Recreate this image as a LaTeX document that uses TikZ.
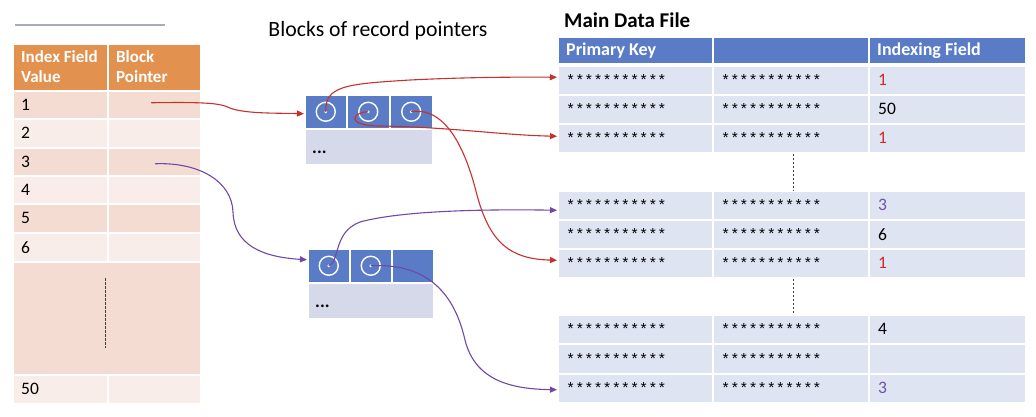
\documentclass[tikz,border=0pt]{standalone}
\usepackage{fontspec}
\setmainfont{Carlito}
\newfontfamily\monof{Liberation Mono}
\usetikzlibrary{arrows.meta}
\definecolor{hdrorange}{HTML}{E3914F}
\definecolor{rowdark}{HTML}{F4DCD3}
\definecolor{rowlight}{HTML}{F9EDEA}
\definecolor{hdrblue}{HTML}{5A7BC6}
\definecolor{rowblue}{HTML}{DEE4F2}
\definecolor{blkgray}{HTML}{D5D9EA}
\definecolor{arrred}{HTML}{C8302C}
\definecolor{numred}{HTML}{D02828}
\definecolor{arrpurple}{HTML}{7048A8}
\definecolor{numpurple}{HTML}{7050A8}
\definecolor{rulegray}{HTML}{A8ADB3}
\newcommand\cbx[6]{\node[cellbase, fill=#6, minimum width=#4pt, minimum height=#5pt] (#1) at (#2,#3) {};}
\newcommand\stars{***********}
\begin{document}
\begin{tikzpicture}[x=1pt,y=-1pt,
  cellbase/.style={draw=white, line width=1.5pt, anchor=north west, inner sep=0pt, rectangle},
  txt/.style={anchor=west, inner sep=0pt, font=\fontsize{17.5}{20}\selectfont},
  hdrtxt/.style={anchor=west, inner sep=0pt, text=white, align=left, font=\fontsize{17}{20}\selectfont\bfseries},
  startxt/.style={anchor=west, inner sep=0pt, font=\fontsize{15.2}{17}\selectfont\monof},
  numtxt/.style={anchor=west, inner sep=0pt, font=\fontsize{17.5}{20}\selectfont},
  dotstxt/.style={anchor=west, inner sep=0pt, font=\fontsize{18}{20}\selectfont\bfseries},
  ptr/.style={circle, draw=white, line width=1.4pt, minimum size=19pt, inner sep=0pt},
  redarrow/.style={draw=arrred, line width=1.1pt, -{Triangle[length=7pt,width=6pt]}},
  purplearrow/.style={draw=arrpurple, line width=1.1pt, -{Triangle[length=7pt,width=6pt]}},
  vdots/.style={draw=black!75, line width=0.9pt, dash pattern=on 2.5pt off 1.5pt}
]
\useasboundingbox (0,0) rectangle (1036,416);
% top-left rule
\coordinate (ruleA) at (15,25);
\coordinate (ruleB) at (165,25);
\draw[rulegray, line width=1.6pt] (ruleA) -- (ruleB);

% ---------------- Left index table
\cbx{Lh1}{12}{43}{95}{47}{hdrorange}
\cbx{Lh2}{107}{43}{93}{47}{hdrorange}
\node[hdrtxt] (Lh1t) at ([xshift=9pt,yshift=1pt]Lh1.west) {Index Field\\Value};
\node[hdrtxt] (Lh2t) at ([xshift=9pt,yshift=1pt]Lh2.west) {Block\\Pointer};
\cbx{La1}{12}{90}{95}{28}{rowdark}   \cbx{Lb1}{107}{90}{93}{28}{rowdark}
\cbx{La2}{12}{118}{95}{29}{rowlight} \cbx{Lb2}{107}{118}{93}{29}{rowlight}
\cbx{La3}{12}{147}{95}{28}{rowdark}  \cbx{Lb3}{107}{147}{93}{28}{rowdark}
\cbx{La4}{12}{175}{95}{28}{rowlight} \cbx{Lb4}{107}{175}{93}{28}{rowlight}
\cbx{La5}{12}{203}{95}{29}{rowdark}  \cbx{Lb5}{107}{203}{93}{29}{rowdark}
\cbx{La6}{12}{232}{95}{29}{rowlight} \cbx{Lb6}{107}{232}{93}{29}{rowlight}
\cbx{La7}{12}{261}{188}{113}{rowdark}
\cbx{La8}{12}{374}{95}{29}{rowlight} \cbx{Lb8}{107}{374}{93}{29}{rowlight}
\node[txt] (Lt1) at ([xshift=9pt]La1.west) {1};
\node[txt] (Lt2) at ([xshift=9pt]La2.west) {2};
\node[txt] (Lt3) at ([xshift=9pt]La3.west) {3};
\node[txt] (Lt4) at ([xshift=9pt]La4.west) {4};
\node[txt] (Lt5) at ([xshift=9pt]La5.west) {5};
\node[txt] (Lt6) at ([xshift=9pt]La6.west) {6};
\node[txt] (Lt8) at ([xshift=9pt]La8.west) {50};
\coordinate (Ldash1) at (105.5,278);
\coordinate (Ldash2) at (105.5,348);
\draw[vdots] (Ldash1) -- (Ldash2);

% ---------------- Blocks of record pointers
\node[inner sep=0pt, font=\fontsize{21.8}{24}\selectfont] (blkttl) at (378,31) {Blocks of record pointers};
\cbx{b11}{304}{94}{42}{34}{hdrblue}
\cbx{b12}{346}{94}{43}{34}{hdrblue}
\cbx{b13}{389}{94}{43}{34}{hdrblue}
\cbx{b1g}{304}{128}{128}{36}{blkgray}
\node[dotstxt] (b1dots) at ([xshift=8pt,yshift=-6pt]b1g.west) {...};
\cbx{b21}{307}{248}{42}{34}{hdrblue}
\cbx{b22}{349}{248}{42}{34}{hdrblue}
\cbx{b23}{391}{248}{42}{34}{hdrblue}
\cbx{b2g}{307}{282}{126}{36}{blkgray}
\node[dotstxt] (b2dots) at ([xshift=8pt,yshift=-6pt]b2g.west) {...};
\node[ptr] (p11) at (b11.center) {};
\node[ptr] (p12) at (b12.center) {};
\node[ptr] (p13) at (b13.center) {};
\node[ptr] (p21) at (b21.center) {};
\node[ptr] (p22) at (b22.center) {};
\foreach \p in {p11,p12,p13,p21,p22} \fill[white] (\p.center) circle (1.5pt);

% ---------------- Main data file
\node[anchor=west, inner sep=0pt, font=\fontsize{21}{24}\selectfont\bfseries] (mainttl) at (564,20) {Main Data File};
\cbx{Mh1}{557}{36}{155}{27}{hdrblue}
\cbx{Mh2}{712}{36}{156}{27}{hdrblue}
\cbx{Mh3}{868}{36}{157}{27}{hdrblue}
\node[hdrtxt, font=\fontsize{18}{20}\selectfont\bfseries] (Mh1t) at ([xshift=9pt]Mh1.west) {Primary Key};
\node[hdrtxt, font=\fontsize{18}{20}\selectfont\bfseries] (Mh3t) at ([xshift=9pt]Mh3.west) {Indexing Field};
\foreach \n/\y/\h in {1/65/29, 2/94/29, 3/123/29, 4/190/29, 5/219/29, 6/248/29, 7/314/29, 8/343/30, 9/373/29}{
  \cbx{Ma\n}{557}{\y}{155}{\h}{rowblue}
  \cbx{Mb\n}{712}{\y}{156}{\h}{rowblue}
  \cbx{Mc\n}{868}{\y}{157}{\h}{rowblue}
  \node[startxt] (Mat\n) at ([xshift=9pt]Ma\n.west) {\stars};
  \node[startxt] (Mbt\n) at ([xshift=9pt]Mb\n.west) {\stars};
}
\node[numtxt, text=numred] (Mct1) at ([xshift=10pt]Mc1.west) {1};
\node[numtxt] (Mct2) at ([xshift=10pt]Mc2.west) {50};
\node[numtxt, text=numred] (Mct3) at ([xshift=10pt]Mc3.west) {1};
\node[numtxt, text=numpurple] (Mct4) at ([xshift=10pt]Mc4.west) {3};
\node[numtxt] (Mct5) at ([xshift=10pt]Mc5.west) {6};
\node[numtxt, text=numred] (Mct6) at ([xshift=10pt]Mc6.west) {1};
\node[numtxt] (Mct7) at ([xshift=10pt]Mc7.west) {4};
\node[numtxt, text=numpurple] (Mct9) at ([xshift=10pt]Mc9.west) {3};
\draw[vdots] (Mb3.south east) ++(-76,0) coordinate (Md1) -- (Md1 |- Mb4.north);
\draw[vdots] (Mb6.south east) ++(-76,0) coordinate (Md2) -- (Md2 |- Mb7.north);

% ---------------- Connectors
\coordinate (s1) at ([xshift=-3pt,yshift=2pt]Lb1.center);
\coordinate (s3) at ([xshift=1pt,yshift=-2pt]Lb3.center);
\draw[redarrow] (s1) .. controls (205,102) and (220,103) .. (230,108)
   .. controls (245,114) and (280,113) .. ([yshift=-2pt]b11.west);
\draw[redarrow] (p11.center) .. controls (325,86) and (345,84) .. (410,80)
   .. controls (470,77) and (520,77) .. ([yshift=3pt]Ma1.west);
\draw[redarrow] (p12.center) .. controls (352,112) and (345,126) .. (380,126)
   .. controls (450,127) and (500,135) .. ([yshift=2pt]Ma3.west);
\draw[redarrow] (p13.center) .. controls (448,106) and (467,155) .. (477,195)
   .. controls (490,243) and (510,259) .. ([yshift=3pt]Ma6.west);
\draw[purplearrow] (s3) .. controls (200,162) and (232,182) .. (233,212)
   .. controls (234,245) and (262,257) .. ([yshift=6pt]b21.west);
\draw[purplearrow] (p21.center) .. controls (340,262) and (333,232) .. (360,222)
   .. controls (400,211) and (480,209) .. ([yshift=-5pt]Ma4.west);
\draw[purplearrow] (p22.center) .. controls (440,262) and (458,310) .. (465,340)
   .. controls (475,380) and (510,389) .. ([yshift=-1.5pt]Ma9.west);
\end{tikzpicture}
\end{document}
